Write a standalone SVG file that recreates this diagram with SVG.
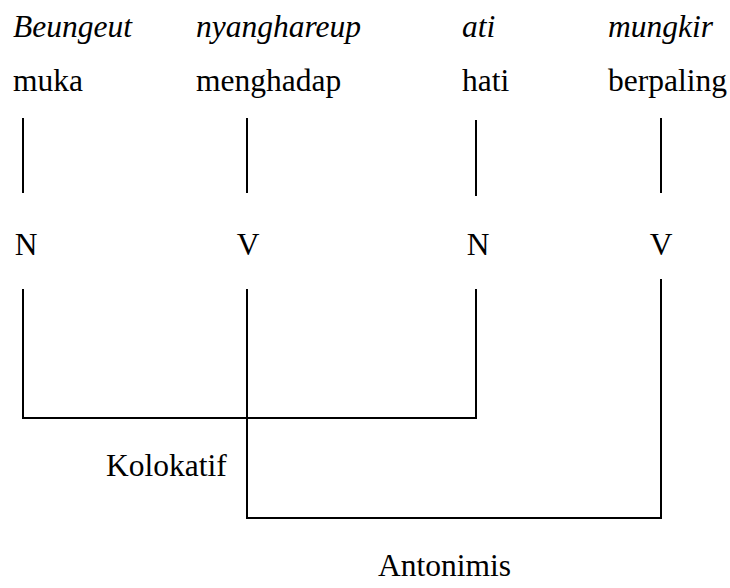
<svg xmlns="http://www.w3.org/2000/svg" width="730" height="588" viewBox="0 0 730 588">
  <style>
    text { font-family: "Liberation Serif", "Times New Roman", serif; font-size: 31.5px; fill: #000; }
    .it { font-style: italic; }
    .pos { text-anchor: middle; }
    .ln { stroke: #000; stroke-width: 2; fill: none; stroke-linecap: butt; }
  </style>
  <rect width="730" height="588" fill="#fff"/>

  <!-- word columns: regional word, gloss, tick and word class -->
  <g id="word-beungeut">
    <text class="it" x="13" y="37">Beungeut</text>
    <text x="13" y="91">muka</text>
    <line class="ln" x1="23" y1="118" x2="23" y2="193"/>
    <text class="pos" x="26" y="255">N</text>
  </g>
  <g id="word-nyanghareup">
    <text class="it" x="196" y="37">nyanghareup</text>
    <text x="196" y="91">menghadap</text>
    <line class="ln" x1="247" y1="118" x2="247" y2="193"/>
    <text class="pos" x="248" y="255">V</text>
  </g>
  <g id="word-ati">
    <text class="it" x="462" y="37">ati</text>
    <text x="462" y="91">hati</text>
    <line class="ln" x1="476" y1="120" x2="476" y2="196"/>
    <text class="pos" x="478" y="255">N</text>
  </g>
  <g id="word-mungkir">
    <text class="it" x="608" y="37">mungkir</text>
    <text x="608" y="91">berpaling</text>
    <line class="ln" x1="661" y1="118" x2="661" y2="193"/>
    <text class="pos" x="661" y="255">V</text>
  </g>

  <!-- relation brackets -->
  <g id="connectors">
    <polyline class="ln" points="23,289 23,418 476,418 476,289"/>
    <polyline class="ln" points="247,289 247,518 661,518 661,279"/>
  </g>

  <g id="label-kolokatif">
    <text x="106" y="476">Kolokatif</text>
  </g>
  <g id="label-antonimis">
    <text x="378" y="576">Antonimis</text>
  </g>
</svg>
